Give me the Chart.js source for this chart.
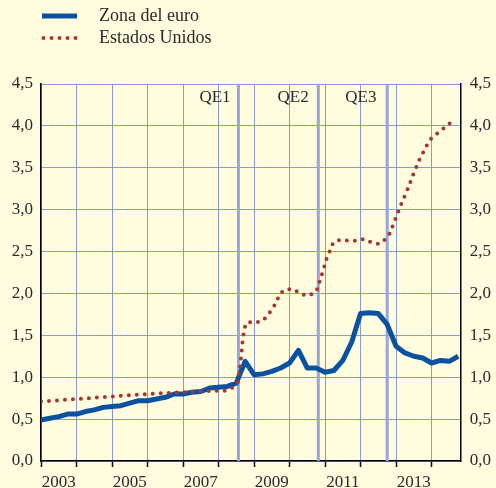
<!DOCTYPE html>
<html>
<head>
<meta charset="utf-8">
<script src="https://cdn.jsdelivr.net/npm/chart.js@4.4.1/dist/chart.umd.min.js"></script>
<style>
  html, body { margin: 0; padding: 0; background: #fffce0; }
  #wrap { position: relative; width: 496px; height: 488px; }
</style>
</head>
<body>
<div id="wrap"><canvas id="qeChart" width="496" height="488"></canvas></div>
<script>
// Zona del euro (quarterly)
const euroDates = [2003.0, 2003.25, 2003.5, 2003.75, 2004.0, 2004.25, 2004.5, 2004.75,
    2005.0, 2005.25, 2005.5, 2005.75, 2006.0, 2006.25, 2006.5, 2006.75,
    2007.0, 2007.25, 2007.5, 2007.75, 2008.0, 2008.25, 2008.5, 2008.75,
    2009.0, 2009.25, 2009.5, 2009.75, 2010.0, 2010.25, 2010.5, 2010.75,
    2011.0, 2011.25, 2011.5, 2011.75, 2012.0, 2012.25, 2012.5, 2012.75,
    2013.0, 2013.25, 2013.5, 2013.75, 2014.0, 2014.25, 2014.5, 2014.75];
const euroValues = [0.49, 0.51, 0.53, 0.56, 0.56, 0.59, 0.61, 0.64,
    0.65, 0.66, 0.69, 0.72, 0.72, 0.74, 0.76, 0.80,
    0.80, 0.82, 0.83, 0.87, 0.88, 0.89, 0.93, 1.19,
    1.03, 1.04, 1.07, 1.11, 1.17, 1.32, 1.11, 1.11,
    1.06, 1.08, 1.20, 1.42, 1.76, 1.77, 1.76, 1.63,
    1.37, 1.29, 1.25, 1.23, 1.17, 1.20, 1.19, 1.25];

// Estados Unidos
const usDates = [2003.0, 2004.0, 2005.0, 2006.0, 2007.0, 2008.0, 2008.18, 2008.37,
    2008.53, 2008.58, 2008.63, 2008.67, 2008.73, 2008.82, 2009.05, 2009.26,
    2009.40, 2009.54, 2009.64, 2009.73, 2009.90, 2010.11, 2010.30, 2010.48,
    2010.69, 2010.81, 2010.86, 2010.94, 2011.0, 2011.06, 2011.16, 2011.23,
    2011.42, 2011.66, 2011.86, 2012.08, 2012.30, 2012.51, 2012.71, 2012.83,
    2012.99, 2013.16, 2013.33, 2013.49, 2013.67, 2013.87, 2013.99, 2014.16,
    2014.34, 2014.51, 2014.66];
const usValues = [0.71, 0.74, 0.77, 0.80, 0.82, 0.84, 0.84, 0.87,
    0.93, 1.03, 1.22, 1.40, 1.59, 1.66, 1.65, 1.68,
    1.75, 1.83, 1.91, 2.00, 2.05, 2.05, 2.00, 1.97,
    2.00, 2.07, 2.17, 2.26, 2.35, 2.44, 2.53, 2.61,
    2.64, 2.63, 2.63, 2.65, 2.61, 2.59, 2.65, 2.72,
    2.90, 3.08, 3.25, 3.43, 3.61, 3.77, 3.85, 3.91,
    3.97, 4.03, 3.98];

const seriesNames = ['Zona del euro', 'Estados Unidos'];
const yearTicks = [2003, 2004, 2005, 2006, 2007, 2008, 2009, 2010, 2011, 2012, 2013, 2014];
const yearLabels = ['2003', '', '2005', '', '2007', '', '2009', '', '2011', '', '2013', ''];
const qeNames = ['QE1', 'QE2', 'QE3'];
const qeDates = [2008.56, 2010.81, 2012.75];
const qeLabelDates = [2007.90, 2010.10, 2012.01];

const bg = '#fffce0';
const blue = '#0a52a0';
const red = '#a8352e';
const gridColor = '#8a98d6';
const qeColor = '#97a6d6';
const textColor = '#2a2a2a';
const fontFamily = '"Liberation Serif", "DejaVu Serif", serif';

const toPoints = (xs, ys) => xs.map((x, i) => ({ x: x, y: ys[i] }));

const backgroundPlugin = {
    id: 'bgFill',
    beforeDraw(chart) {
        const ctx = chart.ctx;
        ctx.save();
        ctx.fillStyle = bg;
        ctx.fillRect(0, 0, chart.width, chart.height);
        ctx.restore();
    }
};

const qePlugin = {
    id: 'qeLines',
    beforeDatasetsDraw(chart) {
        const ctx = chart.ctx;
        const xs = chart.scales.x;
        const area = chart.chartArea;
        ctx.save();
        ctx.strokeStyle = qeColor;
        ctx.lineWidth = 3;
        qeDates.forEach(d => {
            const px = xs.getPixelForValue(d);
            ctx.beginPath();
            ctx.moveTo(px, area.top);
            ctx.lineTo(px, area.bottom);
            ctx.stroke();
        });
        ctx.fillStyle = textColor;
        ctx.font = '17px ' + fontFamily;
        ctx.textAlign = 'center';
        ctx.textBaseline = 'middle';
        qeNames.forEach((name, i) => {
            ctx.fillText(name, xs.getPixelForValue(qeLabelDates[i]), 98);
        });
        ctx.restore();
    }
};

const legendPlugin = {
    id: 'customLegend',
    afterDraw(chart) {
        const ctx = chart.ctx;
        ctx.save();
        // euro sample
        ctx.strokeStyle = blue;
        ctx.lineWidth = 5;
        ctx.beginPath();
        ctx.moveTo(42, 16);
        ctx.lineTo(77, 16);
        ctx.stroke();
        // us sample
        ctx.fillStyle = red;
        for (let i = 0; i < 5; i++) {
            ctx.beginPath();
            ctx.arc(43.5 + i * 8, 38, 2, 0, Math.PI * 2);
            ctx.fill();
        }
        ctx.fillStyle = textColor;
        ctx.font = '18px ' + fontFamily;
        ctx.textAlign = 'left';
        ctx.textBaseline = 'middle';
        ctx.fillText(seriesNames[0], 99, 16);
        ctx.fillText(seriesNames[1], 99, 38);
        ctx.restore();
    }
};

const yTickFmt = v => v.toFixed(1).replace('.', ',');

new Chart(document.getElementById('qeChart').getContext('2d'), {
    type: 'line',
    data: {
        datasets: [{
            label: seriesNames[1],
            data: toPoints(usDates, usValues),
            borderColor: red,
            borderWidth: 4,
            borderDash: [0, 8],
            borderCapStyle: 'round',
            pointRadius: 0,
            tension: 0,
            order: 0
        }, {
            label: seriesNames[0],
            data: toPoints(euroDates, euroValues),
            borderColor: blue,
            borderWidth: 5,
            borderJoinStyle: 'round',
            pointRadius: 0,
            tension: 0,
            order: 1
        }]
    },
    options: {
        responsive: false,
        animation: false,
        layout: { padding: { top: 84, left: 0, right: 0, bottom: 0 } },
        plugins: {
            legend: { display: false },
            tooltip: { enabled: false }
        },
        scales: {
            x: {
                type: 'linear',
                min: 2003,
                max: 2014.82,
                afterBuildTicks: scale => {
                    scale.ticks = yearTicks.map(v => ({ value: v }));
                },
                afterFit: scale => { scale.height = 27; },
                grid: {
                    color: gridColor,
                    lineWidth: 1,
                    drawTicks: true,
                    tickLength: 6,
                    tickColor: '#000',
                    tickWidth: 1.5
                },
                border: { display: true, color: '#000', width: 1.5 },
                ticks: {
                    autoSkip: false,
                    maxRotation: 0,
                    labelOffset: 17.75,
                    padding: 5,
                    color: textColor,
                    font: { family: fontFamily, size: 17 },
                    callback: (v, i) => yearLabels[i]
                }
            },
            y: {
                position: 'left',
                min: 0,
                max: 4.5,
                afterFit: scale => { scale.width = 41; },
                afterBuildTicks: scale => {
                    scale.ticks = [0, 0.5, 1, 1.5, 2, 2.5, 3, 3.5, 4, 4.5].map(v => ({ value: v }));
                },
                grid: { color: gridColor, lineWidth: 1, drawTicks: false },
                border: { display: true, color: '#000', width: 1.5 },
                ticks: {
                    padding: 8,
                    color: textColor,
                    font: { family: fontFamily, size: 17 },
                    callback: v => yTickFmt(v)
                }
            },
            y2: {
                position: 'right',
                min: 0,
                max: 4.5,
                afterFit: scale => { scale.width = 35.3; },
                afterBuildTicks: scale => {
                    scale.ticks = [0, 0.5, 1, 1.5, 2, 2.5, 3, 3.5, 4, 4.5].map(v => ({ value: v }));
                },
                grid: { display: false, drawTicks: false },
                border: { display: true, color: '#000', width: 1.5 },
                ticks: {
                    padding: 9,
                    color: textColor,
                    font: { family: fontFamily, size: 17 },
                    callback: v => yTickFmt(v)
                }
            }
        }
    },
    plugins: [backgroundPlugin, qePlugin, legendPlugin]
});
</script>
</body>
</html>
